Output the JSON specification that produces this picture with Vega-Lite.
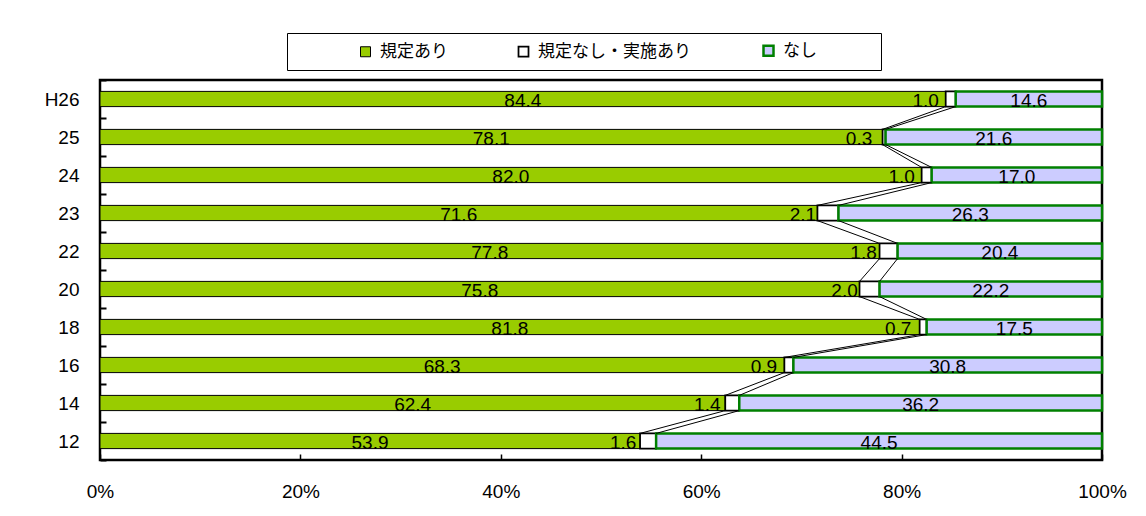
{
  "$schema": "https://vega.github.io/schema/vega-lite/v6.json",
  "width": 1002,
  "height": 380,
  "autosize": {"type": "none"},
  "padding": {"left": 100, "top": 80, "right": 44, "bottom": 56},
  "background": "white",
  "config": {
    "font": "Liberation Sans, Noto Sans CJK JP",
    "view": {"stroke": "black", "strokeWidth": 2.5},
    "axis": {"domain": false, "grid": false, "labelColor": "black", "tickColor": "black", "labelFont": "Liberation Sans", "labelFontSize": 19}
  },
  "data": {
    "values": [
      {"year": "H26", "type": "規定あり", "value": 84.4},
      {"year": "H26", "type": "規定なし・実施あり", "value": 1.0},
      {"year": "H26", "type": "なし", "value": 14.6},
      {"year": "25", "type": "規定あり", "value": 78.1},
      {"year": "25", "type": "規定なし・実施あり", "value": 0.3},
      {"year": "25", "type": "なし", "value": 21.6},
      {"year": "24", "type": "規定あり", "value": 82.0},
      {"year": "24", "type": "規定なし・実施あり", "value": 1.0},
      {"year": "24", "type": "なし", "value": 17.0},
      {"year": "23", "type": "規定あり", "value": 71.6},
      {"year": "23", "type": "規定なし・実施あり", "value": 2.1},
      {"year": "23", "type": "なし", "value": 26.3},
      {"year": "22", "type": "規定あり", "value": 77.8},
      {"year": "22", "type": "規定なし・実施あり", "value": 1.8},
      {"year": "22", "type": "なし", "value": 20.4},
      {"year": "20", "type": "規定あり", "value": 75.8},
      {"year": "20", "type": "規定なし・実施あり", "value": 2.0},
      {"year": "20", "type": "なし", "value": 22.2},
      {"year": "18", "type": "規定あり", "value": 81.8},
      {"year": "18", "type": "規定なし・実施あり", "value": 0.7},
      {"year": "18", "type": "なし", "value": 17.5},
      {"year": "16", "type": "規定あり", "value": 68.3},
      {"year": "16", "type": "規定なし・実施あり", "value": 0.9},
      {"year": "16", "type": "なし", "value": 30.8},
      {"year": "14", "type": "規定あり", "value": 62.4},
      {"year": "14", "type": "規定なし・実施あり", "value": 1.4},
      {"year": "14", "type": "なし", "value": 36.2},
      {"year": "12", "type": "規定あり", "value": 53.9},
      {"year": "12", "type": "規定なし・実施あり", "value": 1.6},
      {"year": "12", "type": "なし", "value": 44.5}
    ]
  },
  "transform": [{"stack": "value", "groupby": ["year"], "as": ["x0", "x1"]}],
  "layer": [
    {
      "mark": {"type": "bar", "height": {"band": 0.4}},
      "encoding": {
        "y": {
          "field": "year", "type": "nominal", "title": null,
          "scale": {"domain": ["H26", "25", "24", "23", "22", "20", "18", "16", "14", "12"], "paddingInner": 0, "paddingOuter": 0},
          "axis": {"tickBand": "extent", "tickSize": -6, "tickWidth": 2, "labelPadding": 27}
        },
        "x": {
          "field": "x0", "type": "quantitative", "title": null,
          "scale": {"domain": [0, 100], "nice": false},
          "axis": {"values": [0, 20, 40, 60, 80, 100], "labelExpr": "datum.value + '%'", "labelFlush": false, "tickSize": -6, "tickWidth": 1.5, "labelPadding": 28}
        },
        "x2": {"field": "x1"},
        "fill": {
          "field": "type", "type": "nominal",
          "scale": {"domain": ["規定あり", "規定なし・実施あり", "なし"], "range": ["#99CC00", "#FFFFFF", "#CCCCFF"]},
          "legend": {"orient": "none", "legendX": 187, "legendY": -47, "direction": "horizontal", "title": "ああああ", "titleColor": "white", "titleOrient": "left", "titleFontSize": 15, "titlePadding": 0, "padding": 9, "strokeColor": "black", "fillColor": "white", "symbolType": "square", "symbolSize": 100, "symbolStrokeWidth": 2.2, "labelFont": "Noto Sans CJK JP", "labelFontSize": 17, "labelColor": "black", "labelOffset": 6, "columnPadding": 67, "labelLimit": 0, "labelExpr": "datum.label == 'なし' ? datum.label + '　　\u2002⠀' : datum.label"}
        },
        "stroke": {
          "field": "type", "type": "nominal",
          "scale": {"domain": ["規定あり", "規定なし・実施あり", "なし"], "range": ["#000000", "#000000", "#008000"]},
          "legend": {"orient": "none", "legendX": 187, "legendY": -47, "direction": "horizontal", "title": "ああああ", "titleColor": "white", "titleOrient": "left", "titleFontSize": 15, "titlePadding": 0, "padding": 9, "strokeColor": "black", "fillColor": "white", "symbolType": "square", "symbolSize": 100, "symbolStrokeWidth": 2.2, "labelFont": "Noto Sans CJK JP", "labelFontSize": 17, "labelColor": "black", "labelOffset": 6, "columnPadding": 67, "labelLimit": 0, "labelExpr": "datum.label == 'なし' ? datum.label + '　　\u2002⠀' : datum.label"}
        },
        "strokeWidth": {
          "field": "type", "type": "ordinal",
          "scale": {"domain": ["規定あり", "規定なし・実施あり", "なし"], "range": [1, 2.5, 2.5]},
          "legend": null
        }
      }
    },
    {
      "transform": [
        {"filter": "datum.type !== 'なし'"},
        {"window": [{"op": "lead", "field": "x1", "as": "nx"}, {"op": "lead", "field": "year", "as": "ny"}], "groupby": ["type"]},
        {"filter": "datum.ny != null"}
      ],
      "mark": {"type": "rule", "color": "black", "strokeWidth": 1},
      "encoding": {
        "x": {"field": "x1", "type": "quantitative", "title": null},
        "x2": {"field": "nx"},
        "y": {"field": "year", "type": "nominal", "title": null, "bandPosition": 0.7},
        "y2": {"field": "ny", "bandPosition": 0.3}
      }
    },
    {
      "transform": [
        {"filter": "datum.type !== '規定なし・実施あり'"},
        {"calculate": "(datum.x0 + datum.x1) / 2", "as": "mid"}
      ],
      "mark": {"type": "text", "fontSize": 19, "dy": 2, "font": "Liberation Sans", "color": "black"},
      "encoding": {
        "x": {"field": "mid", "type": "quantitative", "title": null},
        "y": {"field": "year", "type": "nominal", "title": null},
        "text": {"field": "value", "type": "quantitative", "format": ".1f"}
      }
    },
    {
      "transform": [
        {"filter": "datum.type === '規定なし・実施あり'"},
        {"calculate": "(datum.x0 + datum.x1) / 2", "as": "mid"}
      ],
      "mark": {"type": "text", "fontSize": 19, "dy": 2, "dx": -25, "font": "Liberation Sans", "color": "black"},
      "encoding": {
        "x": {"field": "mid", "type": "quantitative", "title": null},
        "y": {"field": "year", "type": "nominal", "title": null},
        "text": {"field": "value", "type": "quantitative", "format": ".1f"}
      }
    }
  ]
}
